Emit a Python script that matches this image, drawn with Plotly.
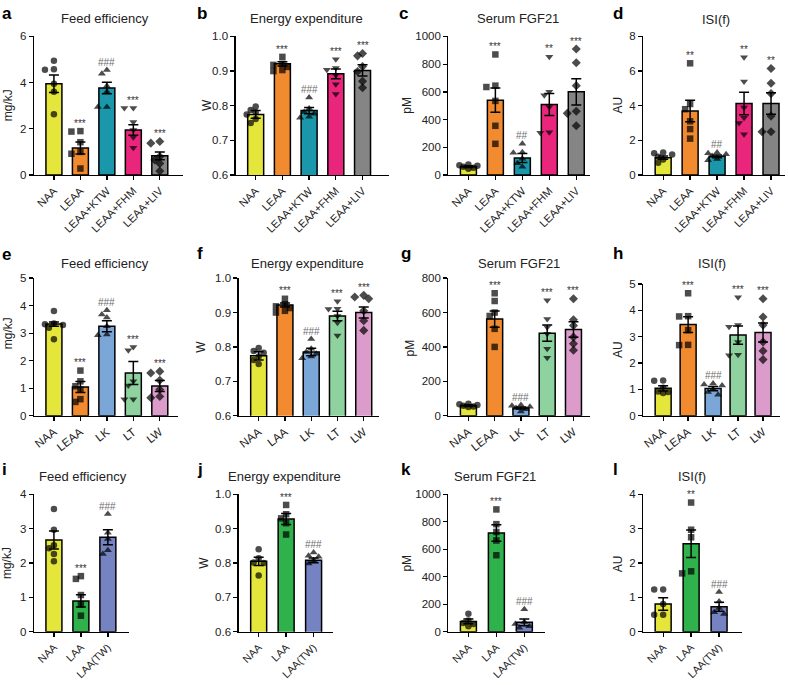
import plotly.graph_objects as go

W, H = 788, 685
FONT = "Liberation Sans, Arial, Helvetica, sans-serif"

# ---------------- data ----------------
# Row 1 (a-d)
row1_groups = ["NAA", "LEAA", "LEAA+KTW", "LEAA+FHM", "LEAA+LIV"]
a_means = [3.95, 1.17, 3.77, 1.95, 0.83]
a_sems = [0.38, 0.26, 0.25, 0.23, 0.17]
a_points = [[4.95, 4.58, 4.56, 3.95, 3.6, 2.63],
            [1.9, 1.88, 1.42, 1.0, 0.92, 0.28],
            [4.55, 4.38, 3.85, 3.6, 2.95, 2.95],
            [2.9, 2.9, 2.3, 1.95, 1.63, 1.18],
            [1.45, 1.38, 0.8, 0.65, 0.5, 0.17]]
a_sig = ["", "***", "###", "***", "***"]

b_means = [0.775, 0.921, 0.786, 0.892, 0.902]
b_sems = [0.011, 0.006, 0.009, 0.014, 0.016]
b_points = [[0.798, 0.788, 0.781, 0.775, 0.762, 0.75],
            [0.941, 0.921, 0.918, 0.912, 0.903, 0.9],
            [0.824, 0.792, 0.782, 0.777, 0.768, 0.765],
            [0.934, 0.909, 0.904, 0.888, 0.862, 0.834],
            [0.951, 0.944, 0.913, 0.899, 0.871, 0.852]]
b_sig = ["", "***", "###", "***", "***"]

c_means = [60, 540, 123, 509, 600]
c_sems = [6, 88, 33, 80, 95]
c_points = [[75, 70, 66, 60, 52, 45],
            [870, 645, 635, 535, 355, 225],
            [225, 165, 160, 118, 85, 60],
            [853, 600, 576, 491, 308, 305],
            [910, 810, 645, 460, 445, 355]]
c_sig = ["", "***", "##", "**", "***"]

d_means = [1.0, 3.7, 1.08, 4.13, 4.13]
d_sems = [0.09, 0.62, 0.08, 0.65, 0.62]
d_points = [[1.3, 1.25, 1.18, 1.05, 0.9, 0.7],
            [6.45, 4.1, 3.8, 3.1, 2.65, 2.1],
            [1.3, 1.25, 1.2, 1.1, 0.92, 0.85],
            [6.8, 5.4, 3.9, 3.3, 3.0, 2.35],
            [6.15, 5.3, 4.7, 3.4, 2.5, 2.5]]
d_sig = ["", "**", "##", "**", "**"]

# Row 2 (e-h)
e_groups = ["NAA", "LEAA", "LK", "LT", "LW"]
f_groups = ["NAA", "LAA", "LK", "LT", "LW"]
e_means = [3.33, 1.04, 3.25, 1.55, 1.08]
e_sems = [0.08, 0.2, 0.2, 0.42, 0.2]
e_points = [[3.81, 3.35, 3.32, 3.3, 3.2, 2.78],
            [1.64, 1.25, 1.07, 0.95, 0.6, 0.5],
            [3.83, 3.68, 3.57, 3.25, 2.95, 2.92],
            [2.5, 2.38, 1.25, 1.1, 0.6, 0.6],
            [1.61, 1.55, 1.29, 0.95, 0.7, 0.65]]
e_sig = ["", "***", "###", "***", "***"]

f_means = [0.774, 0.922, 0.785, 0.89, 0.9]
f_sems = [0.012, 0.006, 0.011, 0.014, 0.016]
f_points = [[0.797, 0.788, 0.783, 0.772, 0.762, 0.75],
            [0.94, 0.924, 0.918, 0.913, 0.905, 0.9],
            [0.823, 0.795, 0.785, 0.78, 0.772, 0.767],
            [0.933, 0.911, 0.91, 0.89, 0.87, 0.833],
            [0.95, 0.945, 0.94, 0.905, 0.876, 0.848]]
f_sig = ["", "***", "###", "***", "***"]

g_means = [58, 562, 45, 480, 501]
g_sems = [5, 47, 6, 47, 45]
g_points = [[70, 66, 62, 58, 54, 50],
            [712, 667, 600, 580, 505, 400],
            [62, 58, 52, 45, 38, 25],
            [672, 562, 514, 476, 390, 337],
            [680, 558, 524, 457, 419, 381]]
g_sig = ["", "***", "###", "***", "***"]

h_means = [1.04, 3.46, 1.03, 3.06, 3.16]
h_sems = [0.1, 0.3, 0.08, 0.35, 0.36]
h_points = [[1.34, 1.33, 1.06, 0.92, 0.9, 0.86],
            [4.65, 3.78, 3.77, 3.25, 2.69, 2.68],
            [1.22, 1.18, 1.15, 1.0, 0.9, 0.8],
            [4.5, 3.44, 3.38, 2.8, 2.31, 2.3],
            [4.44, 3.75, 3.44, 2.8, 2.46, 2.13]]
h_sig = ["", "***", "###", "***", "***"]

# Row 3 (i-l)
row3_groups = ["NAA", "LAA", "LAA(TW)"]
i_means = [2.67, 0.9, 2.75]
i_sems = [0.26, 0.18, 0.22]
i_points = [[3.57, 2.97, 2.52, 2.43, 2.26, 2.05],
            [1.62, 1.54, 1.07, 0.8, 0.47],
            [3.43, 2.88, 2.7, 2.37, 2.26]]
i_sig = ["", "***", "###"]

j_means = [0.805, 0.928, 0.808]
j_sems = [0.012, 0.016, 0.007]
j_points = [[0.84, 0.814, 0.802, 0.8, 0.764],
            [0.969, 0.942, 0.93, 0.916, 0.883],
            [0.831, 0.821, 0.818, 0.808, 0.799]]
j_sig = ["", "***", "###"]

k_means = [76, 719, 69]
k_sems = [18, 60, 25]
k_points = [[131, 83, 64, 57, 40],
            [890, 783, 726, 664, 557],
            [164, 71, 57, 40, 29]]
k_sig = ["", "***", "###"]

l_means = [0.81, 2.56, 0.73]
l_sems = [0.18, 0.4, 0.13]
l_points = [[1.23, 1.23, 0.81, 0.5, 0.5],
            [3.76, 2.97, 2.75, 1.76, 1.7],
            [1.16, 0.88, 0.69, 0.57, 0.52]]
l_sig = ["", "**", "###"]

# ---------------- styles ----------------
YEL, ORA, TEAL, MAG, GRAY = "#e4e63c", "#f28a30", "#1a97aa", "#e9257c", "#858585"
LBLUE, LGREEN, PINK = "#7ba6d8", "#8ed39f", "#dc9ccb"
GREEN, VIOLET = "#2fb24c", "#7583c2"
row1_colors = [YEL, ORA, TEAL, MAG, GRAY]
row2_colors = [YEL, ORA, LBLUE, LGREEN, PINK]
row3_colors = [YEL, GREEN, VIOLET]
sym5 = ["circle", "square", "triangle-up", "triangle-down", "diamond"]
sym3 = ["circle", "square", "triangle-up"]
sym_size = {"circle": 6.5, "square": 6.5, "triangle-up": 7, "triangle-down": 7, "diamond": 7}


def P(letter, title, ylabel, groups, means, sems, points, sig, colors, symbols,
      box, spacing, yrange, dtick, fmt, angle, xfont, title_xy, ylabel_xy, letter_xy):
    return dict(letter=letter, title=title, ylabel=ylabel, groups=groups, means=means,
                sems=sems, points=points, sig=sig, colors=colors, symbols=symbols,
                box=box, spacing=spacing, yrange=yrange, dtick=dtick, fmt=fmt,
                angle=angle, xfont=xfont, title_xy=title_xy, ylabel_xy=ylabel_xy,
                letter_xy=letter_xy)


panels = [
    P("a", "Feed efficiency", "mg/kJ", row1_groups, a_means, a_sems, a_points, a_sig, row1_colors, sym5,
      (33, 182, 31, 172), 26.5, (0, 6), 2, "", -45, 11, (104, 13), (7, 101), (0, 15)),
    P("b", "Energy expenditure", "W", row1_groups, b_means, b_sems, b_points, b_sig, row1_colors, sym5,
      (235, 388, 31, 172), 26.75, (0.6, 1.0), 0.1, ".1f", -45, 11, (306, 13), (206, 101), (195, 15)),
    P("c", "Serum FGF21", "pM", row1_groups, c_means, c_sems, c_points, c_sig, row1_colors, sym5,
      (448, 590, 31, 172), 27, (0, 1000), 200, "", -45, 11, (518, 13), (407, 101), (398, 15)),
    P("d", "ISI(f)", "AU", row1_groups, d_means, d_sems, d_points, d_sig, row1_colors, sym5,
      (643, 785, 31, 172), 27, (0, 8), 2, "", -45, 11, (716, 14), (618, 101), (612, 15)),
    P("e", "Feed efficiency", "mg/kJ", e_groups, e_means, e_sems, e_points, e_sig, row2_colors, sym5,
      (33, 177, 277, 417), 26.5, (0, 5), 1, "", -38, 11.5, (104, 262), (7, 333), (0, 261)),
    P("f", "Energy expenditure", "W", f_groups, f_means, f_sems, f_points, f_sig, row2_colors, sym5,
      (238, 378, 277, 417), 26.3, (0.6, 1.0), 0.1, ".1f", -38, 11.5, (307, 262), (200, 347), (195, 260)),
    P("g", "Serum FGF21", "pM", e_groups, g_means, g_sems, g_points, g_sig, row2_colors, sym5,
      (448, 590, 277, 417), 26.3, (0, 800), 200, "", -38, 11.5, (519, 262), (409, 348), (400, 260)),
    P("h", "ISI(f)", "AU", e_groups, h_means, h_sems, h_points, h_sig, row2_colors, sym5,
      (643, 780, 283, 417), 25, (0, 5), 1, "", -38, 11.5, (712, 262), (618, 350), (612, 260)),
    P("i", "Feed efficiency", "mg/kJ", row3_groups, i_means, i_sems, i_points, i_sig, row3_colors, sym3,
      (33, 128, 497, 637), 27, (0, 4), 1, "", -45, 10.5, (82, 479), (6, 567), (0, 479)),
    P("j", "Energy expenditure", "W", row3_groups, j_means, j_sems, j_points, j_sig, row3_colors, sym3,
      (238, 332, 497, 637), 27.5, (0.6, 1.0), 0.1, ".1f", -45, 10.5, (284, 479), (203, 567), (195, 479)),
    P("k", "Serum FGF21", "pM", row3_groups, k_means, k_sems, k_points, k_sig, row3_colors, sym3,
      (448, 545, 497, 637), 28, (0, 1000), 200, "", -45, 10.5, (495, 479), (407, 567), (400, 479)),
    P("l", "ISI(f)", "AU", row3_groups, l_means, l_sems, l_points, l_sig, row3_colors, sym3,
      (643, 742, 497, 637), 28, (0, 4), 1, "", -45, 10.5, (692, 479), (618, 568), (612, 479)),
]


def swarm(vals, per_px, s):
    """Deterministic Prism-like beeswarm: offsets (index units) so markers don't overlap."""
    cands = [0, -5, 5, -9, 9]
    placed = []
    offs = [0.0] * len(vals)
    order = sorted(range(len(vals)), key=lambda i: -vals[i])
    for i in order:
        ypx = vals[i] / per_px
        chosen, best_c, best_d = None, 0, -1.0
        for c in cands:
            d = min([((c - x) ** 2 + (ypx - y) ** 2) ** 0.5 for x, y in placed], default=1e9)
            if d >= 5.5:
                chosen = c
                break
            if d > best_d:
                best_d, best_c = d, c
        if chosen is None:
            chosen = best_c
        placed.append((chosen, ypx))
        offs[i] = chosen / s
    return offs


fig = go.Figure()
annotations = []
layout_axes = {}

for n, p in enumerate(panels, start=1):
    xa = "x" if n == 1 else f"x{n}"
    ya = "y" if n == 1 else f"y{n}"
    xkey = "xaxis" if n == 1 else f"xaxis{n}"
    ykey = "yaxis" if n == 1 else f"yaxis{n}"
    L, R, T, B = p["box"]
    s = p["spacing"]
    y0, y1 = p["yrange"]
    per_px = (y1 - y0) / (B - T)
    idx = list(range(len(p["groups"])))

    fig.add_trace(go.Bar(
        x=idx, y=p["means"], width=16 / s,
        marker=dict(color=p["colors"], line=dict(color="black", width=1.5)),
        error_y=dict(type="data", array=p["sems"], visible=True, color="black",
                     thickness=1.5, width=5),
        xaxis=xa, yaxis=ya, showlegend=False, hoverinfo="skip"))

    px, py, psym, psize = [], [], [], []
    for gi, vals in enumerate(p["points"]):
        offs = swarm(vals, per_px, s)
        sym = p["symbols"][gi]
        for v, o in zip(vals, offs):
            px.append(gi + o)
            py.append(v)
            psym.append(sym)
            psize.append(sym_size[sym])
    fig.add_trace(go.Scatter(
        x=px, y=py, mode="markers",
        marker=dict(color="black", symbol=psym, size=psize, line=dict(width=0)),
        xaxis=xa, yaxis=ya, showlegend=False, hoverinfo="skip", cliponaxis=False))

    # significance labels
    for gi, lab in enumerate(p["sig"]):
        if not lab:
            continue
        top = max(max(p["points"][gi]), p["means"][gi] + p["sems"][gi])
        annotations.append(dict(
            x=gi, y=top + 8 * per_px, xref=xa, yref=ya, text=lab, showarrow=False,
            yanchor="middle", xanchor="center",
            font=dict(family=FONT, size=10, color="#333333" if lab[0] == "*" else "#6e6e6e")))

    layout_axes[xkey] = dict(
        domain=[L / W, R / W], range=[-20 / s, (R - L - 20) / s], anchor=ya,
        tickmode="array", tickvals=idx, ticktext=p["groups"], tickangle=p["angle"],
        ticks="outside", ticklen=4, tickwidth=1.3, tickcolor="black",
        showline=True, linecolor="black", linewidth=1.3, showgrid=False, zeroline=False,
        tickfont=dict(family=FONT, size=p["xfont"], color="#222"), fixedrange=True)
    layout_axes[ykey] = dict(
        domain=[1 - B / H, 1 - T / H], range=[y0, y1], anchor=xa,
        tick0=y0, dtick=p["dtick"], tickformat=p["fmt"],
        ticks="outside", ticklen=4, tickwidth=1.3, tickcolor="black",
        showline=True, linecolor="black", linewidth=1.3, showgrid=False, zeroline=False,
        tickfont=dict(family=FONT, size=11.5, color="#222"), fixedrange=True)

    tx, ty = p["title_xy"]
    annotations.append(dict(x=tx / W, y=1 - ty / H, xref="paper", yref="paper",
                            text=p["title"], showarrow=False, xanchor="center", yanchor="middle",
                            font=dict(family=FONT, size=13, color="#222")))
    lx, ly = p["ylabel_xy"]
    annotations.append(dict(x=lx / W, y=1 - ly / H, xref="paper", yref="paper",
                            text=p["ylabel"], showarrow=False, xanchor="center", yanchor="middle",
                            textangle=-90, font=dict(family=FONT, size=12, color="#222")))
    gx, gy = p["letter_xy"]
    annotations.append(dict(x=(gx - 1) / W, y=1 - (gy + 4) / H, xref="paper", yref="paper",
                            text="<b>%s</b>" % p["letter"], showarrow=False,
                            xanchor="left", yanchor="bottom",
                            font=dict(family=FONT, size=17, color="black")))

fig.update_layout(
    width=W, height=H, margin=dict(l=0, r=0, t=0, b=0),
    paper_bgcolor="white", plot_bgcolor="white",
    font=dict(family=FONT), showlegend=False, bargap=0,
    annotations=annotations, **layout_axes)

fig.write_html("out.html",
               config={"displayModeBar": False, "staticPlot": True},
               post_script="document.body.style.margin='0px';document.body.style.overflow='hidden';")
